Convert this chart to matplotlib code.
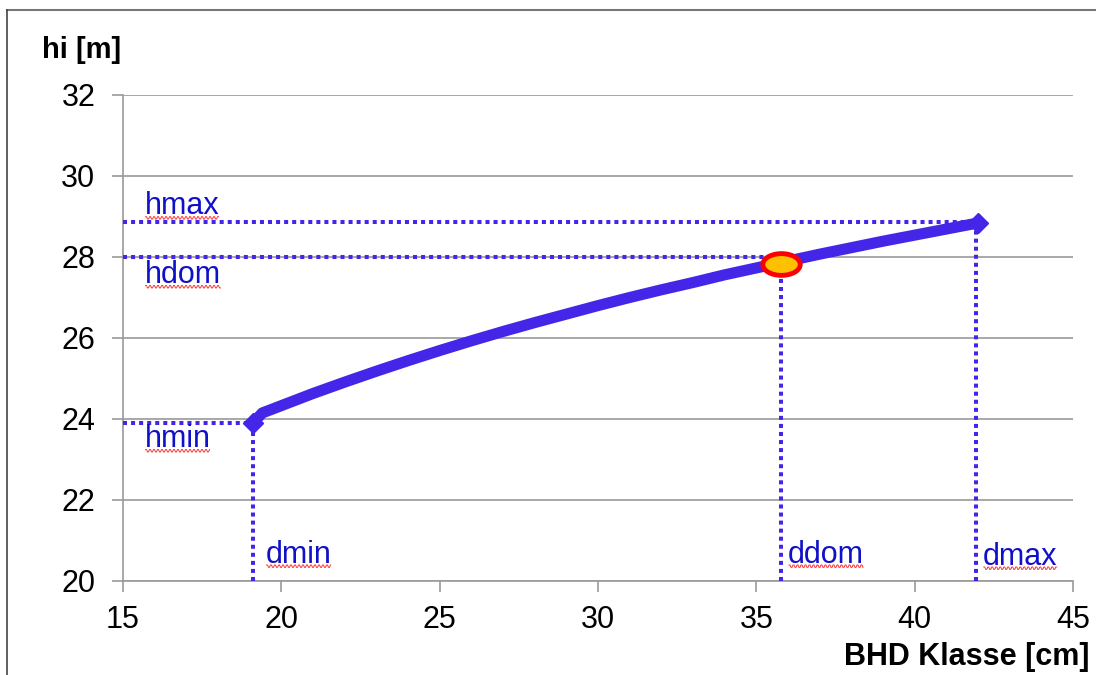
import matplotlib
matplotlib.use("Agg")
import numpy as np
import matplotlib.pyplot as plt
from matplotlib.path import Path
from matplotlib.transforms import Affine2D
from matplotlib.lines import Line2D

# ---- data ----
bhd = [19.1, 19.4, 20, 21, 22, 23, 24, 25, 26, 27, 28, 29, 30, 31, 32, 33, 34,
       35, 36, 37, 38, 39, 40, 41, 42]
hi = [23.90, 24.15, 24.33, 24.63, 24.91, 25.18, 25.44, 25.69, 25.93, 26.16, 26.38,
      26.59, 26.80, 27.00, 27.19, 27.37, 27.56, 27.73, 27.90, 28.07, 28.23, 28.39,
      28.54, 28.69, 28.84]
dmin, hmin = 19.1, 23.9
ddom, hdom_pt, hdom = 35.77, 27.83, 28.0
dmax, hmax = 41.95, 28.86
x_ticks = [15, 20, 25, 30, 35, 40, 45]
y_ticks = [20, 22, 24, 26, 28, 30, 32]

plt.rcParams['font.family'] = ['Liberation Sans', 'DejaVu Sans']

fig = plt.figure(figsize=(10.96, 6.75), dpi=100)
ax = fig.add_axes([123/1096, 1-581/675, (1073-123)/1096, (581-95)/675])

blue = '#4326E8'
txtblue = '#1010C8'
grid_c = '#9a9a9a'

ax.set_xlim(15, 45)
ax.set_ylim(20, 32)
ax.set_xticks(x_ticks)
ax.set_yticks(y_ticks)
ax.tick_params(axis='both', labelsize=22, colors=grid_c, labelcolor='black',
               length=8, width=1.2, direction='out')
ax.tick_params(axis='x', pad=9)
ax.tick_params(axis='y', pad=12)
for s in ['top', 'right']:
    ax.spines[s].set_visible(False)
for s in ['left', 'bottom']:
    ax.spines[s].set_color(grid_c)
    ax.spines[s].set_linewidth(1.2)
ax.grid(axis='y', color=grid_c, linewidth=1.2)
ax.set_axisbelow(True)

dot = dict(color=blue, linewidth=2.9, linestyle=(0, (1, 1)), dash_capstyle='butt', zorder=3)
# horizontal reference lines
ax.plot([15, dmax], [hmax, hmax], **dot)
ax.plot([15, ddom], [hdom, hdom], **dot)
ax.plot([15, dmin], [hmin, hmin], **dot)
# vertical reference lines
ax.plot([dmin, dmin], [20, hmin], **dot)
ax.plot([ddom, ddom], [20, hdom_pt], **dot)
ax.plot([dmax, dmax], [20, hmax], **dot)

# main curve
ax.plot(bhd, hi, color=blue, linewidth=8, solid_capstyle='round', zorder=4,
        marker='D', markersize=10, markevery=[0, len(bhd)-1])

# dominant point (ellipse marker)
ell = Path.unit_circle().transformed(Affine2D().scale(1.0, 0.58))
ax.plot([ddom], [hdom_pt], marker=ell, markersize=27, markerfacecolor='#FFC000',
        markeredgecolor='#FF0000', markeredgewidth=3.5, linestyle='none', zorder=5)

# labels
lab = dict(fontsize=22, color=txtblue, zorder=6)
labels = [
    (15.68, 29.25, 'hmax'),
    (15.68, 27.55, 'hdom'),
    (15.68, 23.5, 'hmin'),
    (19.5, 20.65, 'dmin'),
    (36.0, 20.65, 'ddom'),
    (42.15, 20.6, 'dmax'),
]
texts = []
for x, y, s in labels:
    texts.append(ax.text(x, y, s, ha='left', va='center', **lab))

fig.text(42/1096, 1-50/675, 'hi [m]', fontsize=21, fontweight='bold', ha='left', va='center')
fig.text(1090/1096, 1-657/675, 'BHD Klasse [cm]', fontsize=22, fontweight='bold',
         ha='right', va='center')

# outer frame (top and left edges)
fig.add_artist(Line2D([7/1096, 1], [1-10/675, 1-10/675], transform=fig.transFigure,
                      color='#777777', linewidth=1.5))
fig.add_artist(Line2D([7/1096, 7/1096], [0, 1-10/675], transform=fig.transFigure,
                      color='#444444', linewidth=1.2))

# red wavy spell-check underline under the labels (decoration)
renderer = fig.canvas.get_renderer()
for t in texts:
    bb = t.get_window_extent(renderer)
    xs = np.arange(bb.x0 + 1, bb.x1, 1.0)
    ys = bb.y0 + 3.5 + 1.2 * np.where((np.arange(len(xs)) // 2) % 2 == 0, 1, -1)
    fig.add_artist(Line2D(xs, ys, transform=None, color='#FF3030', linewidth=0.7, zorder=7))

fig.savefig('out.png', dpi=100)
